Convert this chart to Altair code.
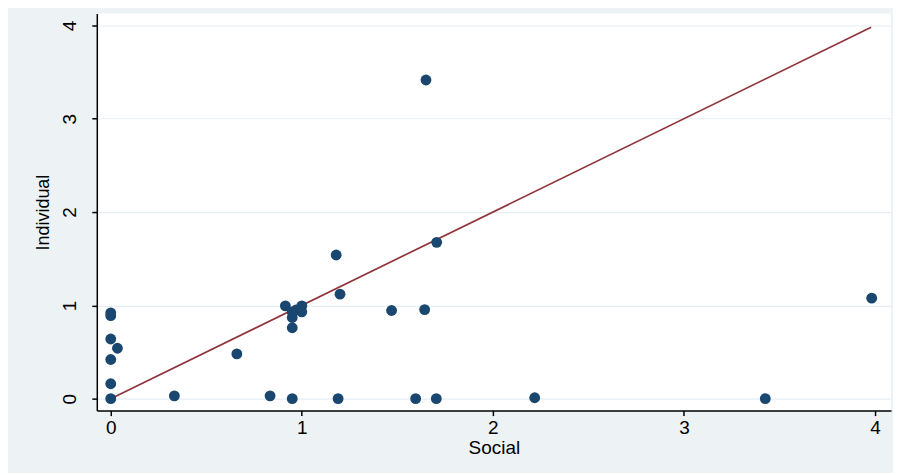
import altair as alt
import pandas as pd

social = [0, 0, 0, 0, 0, 0, 0.035, 0.333, 0.66, 0.834, 0.95,
          0.914, 0.95, 0.95, 0.95, 0.97, 1.0, 1.0,
          1.18, 1.20, 1.19, 1.47, 1.643, 1.596, 1.704, 1.706, 1.65,
          2.219, 3.426, 3.983]
individual = [0, 0.16, 0.42, 0.64, 0.89, 0.92, 0.54, 0.03, 0.48, 0.03, 0.0,
              0.995, 0.76, 0.87, 0.93, 0.95, 0.995, 0.93,
              1.54, 1.12, 0.0, 0.945, 0.955, 0.0, 0.0, 1.676, 3.415,
              0.01, 0.0, 1.077]

line_x = [0, 3.98]
line_y = [0, 3.98]

ticks = [0, 1, 2, 3, 4]

pts = pd.DataFrame({"Social": social, "Individual": individual})
ln = pd.DataFrame({"Social": line_x, "Individual": line_y})

xscale = alt.Scale(domain=[-0.073, 4.084], nice=False, zero=False)
yscale = alt.Scale(domain=[-0.128, 4.128], nice=False, zero=False)

xaxis = alt.Axis(values=ticks, title="Social", grid=False, format="d",
                 labelFontSize=19, titleFontSize=19, labelPadding=3,
                 titlePadding=1, tickSize=5, tickColor="#000000",
                 domainColor="#000000", domainWidth=1.5, tickWidth=1.5,
                 labelColor="#000000", titleColor="#000000",
                 titleFontWeight="normal", labelFont="Liberation Sans",
                 titleFont="Liberation Sans")
yaxis = alt.Axis(values=ticks, title="Individual", grid=True, format="d",
                 gridColor="#e6eef2", gridWidth=1.2,
                 labelFontSize=19, titleFontSize=18, labelAngle=270,
                 labelAlign="center", labelBaseline="bottom",
                 labelPadding=12, titlePadding=8, tickSize=5,
                 tickColor="#000000", domainColor="#000000", domainWidth=1.5,
                 tickWidth=1.5, labelColor="#000000", titleColor="#000000",
                 titleFontWeight="normal", labelFont="Liberation Sans",
                 titleFont="Liberation Sans")

points = alt.Chart(pts).mark_circle(size=118, opacity=1, color="#1a476f").encode(
    x=alt.X("Social:Q", scale=xscale, axis=xaxis),
    y=alt.Y("Individual:Q", scale=yscale, axis=yaxis),
)

line = alt.Chart(ln).mark_line(color="#90353b", strokeWidth=1.7).encode(
    x=alt.X("Social:Q", scale=xscale),
    y=alt.Y("Individual:Q", scale=yscale),
)

chart = alt.layer(line, points).properties(
    width=796, height=398,
    background="#edf2f5",
    padding={"left": 89, "top": 5, "right": 2, "bottom": 62},
    autosize=alt.AutoSizeParams(type="none"),
).configure_view(fill="#ffffff", strokeWidth=0)

chart.save("out.html", embed_options={"renderer": "svg", "actions": False})
